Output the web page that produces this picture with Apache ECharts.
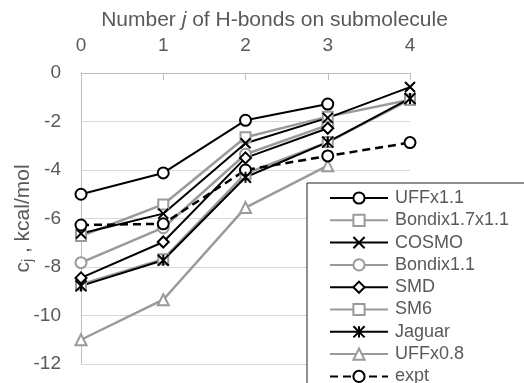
<!DOCTYPE html>
<html><head><meta charset="utf-8">
<script src="https://cdn.jsdelivr.net/npm/echarts@6/dist/echarts.min.js"></script>
<style>html,body{margin:0;padding:0;background:#fff}#c{width:524px;height:383px}</style>
</head><body><div id="c"></div>
<script>
const jValues = [0, 1, 2, 3, 4];
const xTicks = [0, 1, 2, 3, 4];
const yTicks = [0, -2, -4, -6, -8, -10, -12];
const seriesNames = ['UFFx1.1','Bondix1.7x1.1','COSMO','Bondix1.1','SMD','SM6','Jaguar','UFFx0.8','expt'];
const uff11   = [-5.0, -4.12, -1.95, -1.28, null];
const bondix17 = [-6.72, -5.42, -2.65, -1.8, -1.1];
const cosmo   = [-6.62, -5.8, -2.9, -1.85, -0.58];
const bondix11 = [-7.82, -6.38, -3.35, -2.15, null];
const smd     = [-8.45, -6.97, -3.5, -2.28, null];
const sm6     = [-8.72, -7.68, -4.15, -2.85, -1.1];
const jaguar  = [-8.78, -7.72, -4.3, -2.85, -1.05];
const uff08   = [-11.0, -9.35, -5.55, -3.82, null];
const expt    = [-6.27, -6.22, -4.0, -3.42, -2.87];

const BLACK = '#000000', GRAY = '#9a9a9a';
const X_PATH = 'path://M0,0L10,10M10,0L0,10';
const AST_PATH = 'path://M0,0L10,10M10,0L0,10M5,0L5,10';
function mk(name, data, color, symbol, size, dashed, width) {
  const isPath = symbol.startsWith('path');
  return {
    name, type: 'line', data: jValues.map((j, i) => [j, data[i]]),
    symbol, symbolSize: size, showSymbol: true, connectNulls: false,
    lineStyle: { color, width: width || 2, type: dashed ? [8, 5] : 'solid' },
    itemStyle: isPath ? { color: 'rgba(0,0,0,0)', borderColor: color, borderWidth: 2 }
                      : { color: color, borderColor: color, borderWidth: 2 },
    emphasis: { disabled: true }
  };
}
const series = [
  mk(seriesNames[7], uff08, GRAY, 'emptyTriangle', 11, false, 2.5),
  mk(seriesNames[5], sm6, GRAY, 'emptyRect', 10, false, 2.5),
  mk(seriesNames[3], bondix11, GRAY, 'emptyCircle', 11, false, 2.5),
  mk(seriesNames[1], bondix17, GRAY, 'emptyRect', 10, false, 2.5),
  mk(seriesNames[8], expt, BLACK, 'emptyCircle', 11, true, 2.5),
  mk(seriesNames[6], jaguar, BLACK, AST_PATH, 11, false, 2),
  mk(seriesNames[4], smd, BLACK, 'emptyDiamond', 11, false, 2),
  mk(seriesNames[2], cosmo, BLACK, X_PATH, 10, false, 2),
  mk(seriesNames[0], uff11, BLACK, 'emptyCircle', 11, false, 2),
];
const FONT = 'Liberation Sans';
const TXT = '#595959';
const chart = echarts.init(document.getElementById('c'), null, { renderer: 'canvas' });
chart.setOption({
  animation: false,
  backgroundColor: '#fff',
  textStyle: { fontFamily: FONT },
  grid: { left: 81, top: 73, right: 114, bottom: 19, containLabel: false, outerBoundsMode: 'none' },
  xAxis: {
    type: 'value', position: 'top', min: xTicks[0], max: xTicks[xTicks.length - 1], interval: 1,
    name: '{a|Number }{i|j}{a| of H-bonds on submolecule}', nameLocation: 'middle', nameGap: 40,
    nameTextStyle: { padding: [0, 0, 0, 58], rich: { a: { fontSize: 21, color: TXT, fontFamily: FONT }, i: { fontSize: 21, color: TXT, fontStyle: 'italic', fontFamily: FONT } } },
    axisLine: { show: true, lineStyle: { color: '#bfbfbf', width: 1 } },
    axisTick: { show: true, inside: true, length: 7, lineStyle: { color: '#bfbfbf' } },
    axisLabel: { fontSize: 19, color: TXT, margin: 18, fontFamily: FONT },
    splitLine: { show: false }
  },
  yAxis: {
    type: 'value', min: yTicks[yTicks.length - 1], max: yTicks[0], interval: 2,
    name: '{a|c}{s|j}{a| , kcal/mol}', nameLocation: 'middle', nameGap: 46, nameRotate: 90,
    nameMoveOverlap: false,
    nameTextStyle: { rich: { a: { fontSize: 21, color: TXT, fontFamily: FONT }, s: { fontSize: 14, color: TXT, fontFamily: FONT, verticalAlign: 'bottom', padding: [9, 0, 0, 0] } } },
    axisLine: { show: true, lineStyle: { color: '#bfbfbf', width: 1 } },
    axisTick: { show: false },
    axisLabel: { fontSize: 19, color: TXT, margin: 20, fontFamily: FONT },
    splitLine: { show: true, lineStyle: { color: '#d9d9d9', width: 1 } }
  },
  legend: {
    data: seriesNames, orient: 'vertical', left: 307, top: 183,
    width: 260, height: 260, padding: [6, 40, 10, 22],
    itemWidth: 58, itemHeight: 14, itemGap: 4.3,
    backgroundColor: '#fff', borderColor: '#222', borderWidth: 1,
    textStyle: { fontSize: 18, color: TXT, fontFamily: FONT, padding: [0, 0, 0, 2] },
    selectedMode: false
  },
  series
});
</script></body></html>
